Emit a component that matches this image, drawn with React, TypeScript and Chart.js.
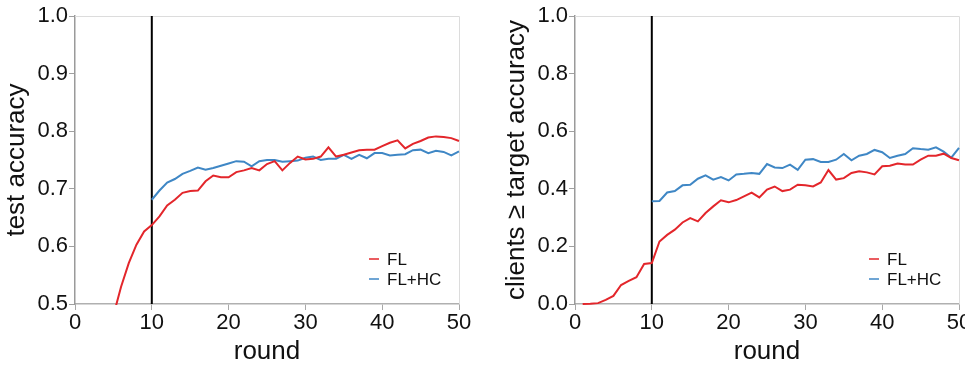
import React, { useEffect, useRef } from "react";
import { Chart, registerables } from "chart.js";

Chart.register(...registerables);

const rounds = [1, 2, 3, 4, 5, 6, 7, 8, 9, 10, 11, 12, 13, 14, 15, 16, 17, 18, 19, 20, 21, 22, 23, 24, 25, 26, 27, 28, 29, 30, 31, 32, 33, 34, 35, 36, 37, 38, 39, 40, 41, 42, 43, 44, 45, 46, 47, 48, 49, 50];

const accFL = [0.30, 0.36, 0.41, 0.45, 0.48, 0.530, 0.571, 0.603, 0.626, 0.637, 0.652, 0.671, 0.681, 0.693, 0.696, 0.697, 0.713, 0.723, 0.720, 0.720, 0.729, 0.732, 0.736, 0.732, 0.743, 0.748, 0.732, 0.745, 0.756, 0.751, 0.752, 0.756, 0.772, 0.756, 0.759, 0.763, 0.767, 0.768, 0.768, 0.774, 0.780, 0.784, 0.770, 0.778, 0.783, 0.789, 0.791, 0.790, 0.788, 0.783];

const accHC = [null, null, null, null, null, null, null, null, null, 0.681, 0.697, 0.711, 0.717, 0.726, 0.731, 0.737, 0.733, 0.736, 0.740, 0.744, 0.748, 0.747, 0.739, 0.748, 0.750, 0.750, 0.747, 0.748, 0.749, 0.754, 0.756, 0.750, 0.752, 0.752, 0.759, 0.752, 0.759, 0.753, 0.762, 0.762, 0.758, 0.759, 0.760, 0.767, 0.768, 0.762, 0.766, 0.764, 0.758, 0.765];

const cliFL = [0.0, 0.001, 0.003, 0.014, 0.028, 0.066, 0.080, 0.093, 0.139, 0.142, 0.217, 0.240, 0.258, 0.283, 0.298, 0.287, 0.316, 0.339, 0.360, 0.353, 0.361, 0.374, 0.387, 0.370, 0.397, 0.408, 0.392, 0.397, 0.414, 0.412, 0.408, 0.422, 0.465, 0.432, 0.437, 0.455, 0.461, 0.457, 0.450, 0.478, 0.480, 0.488, 0.484, 0.484, 0.501, 0.515, 0.515, 0.522, 0.507, 0.499];

const cliHC = [null, null, null, null, null, null, null, null, null, 0.357, 0.358, 0.387, 0.392, 0.412, 0.414, 0.435, 0.447, 0.432, 0.441, 0.429, 0.450, 0.452, 0.455, 0.452, 0.486, 0.474, 0.472, 0.484, 0.466, 0.501, 0.503, 0.493, 0.493, 0.501, 0.521, 0.499, 0.515, 0.521, 0.535, 0.527, 0.507, 0.515, 0.521, 0.541, 0.538, 0.536, 0.544, 0.529, 0.508, 0.542];

const markerRound = 10;
const seriesLabels = ["FL", "FL+HC"];
const xTitle = "round";
const leftYTitle = "test accuracy";
const rightYTitle = "clients \u2265 target accuracy";

const RED = "#e3262b";
const BLUE = "#3f87c5";
const FONT = "'Liberation Sans', Arial, Helvetica, sans-serif";

const framePlugin = {
  id: "frameLegend",
  beforeDatasetsDraw(chart: any) {
    const { ctx, chartArea: a } = chart;
    ctx.save();
    ctx.strokeStyle = "#dcdcdc";
    ctx.lineWidth = 1;
    ctx.beginPath();
    ctx.moveTo(a.left, Math.round(a.top) + 0.5);
    ctx.lineTo(Math.round(a.right) + 0.5, Math.round(a.top) + 0.5);
    ctx.lineTo(Math.round(a.right) + 0.5, a.bottom);
    ctx.stroke();
    ctx.restore();
  },
  afterDraw(chart: any) {
    const { ctx, chartArea: a } = chart;
    const items = chart.data.datasets.filter((d: any) => d.label);
    ctx.save();
    ctx.font = `17px ${FONT}`;
    ctx.textBaseline = "middle";
    ctx.textAlign = "left";
    items.forEach((d: any, i: number) => {
      const y = a.bottom - 45 + i * 20;
      ctx.globalAlpha = 0.75;
      ctx.strokeStyle = d.borderColor;
      ctx.lineWidth = 2;
      ctx.beginPath();
      ctx.moveTo(a.right - 90, y);
      ctx.lineTo(a.right - 80, y);
      ctx.stroke();
      ctx.globalAlpha = 1;
      ctx.fillStyle = "#111";
      ctx.fillText(d.label, a.right - 72, y + 1);
    });
    ctx.restore();
  },
};

function makeConfig(fl: (number | null)[], hc: (number | null)[], yMin: number, yMax: number, step: number, yTitle: string, padRight: number, bottomClip: number) {
  const pts = (arr: (number | null)[]) => rounds.map((r, i) => ({ x: r, y: arr[i] }));
  const clip = { left: 1, top: 1, right: 1, bottom: bottomClip };
  return {
    type: "line" as const,
    data: {
      datasets: [
        { label: seriesLabels[0], data: pts(fl), borderColor: RED, backgroundColor: RED, borderWidth: 2, pointRadius: 0, tension: 0, spanGaps: false, clip },
        { label: seriesLabels[1], data: pts(hc), borderColor: BLUE, backgroundColor: BLUE, borderWidth: 2, pointRadius: 0, tension: 0, spanGaps: false, clip },
        { label: "", data: [{ x: markerRound, y: yMin }, { x: markerRound, y: yMax }], borderColor: "#000", borderWidth: 2, pointRadius: 0 },
      ],
    },
    options: {
      animation: false,
      responsive: false,
      maintainAspectRatio: false,
      layout: { padding: { top: 16, right: padRight, bottom: 0, left: 0 } },
      plugins: { legend: { display: false }, tooltip: { enabled: false } },
      scales: {
        x: {
          type: "linear",
          min: 0,
          max: 50,
          afterFit: (s: any) => { s.height = 66; },
          ticks: { stepSize: 10, color: "#111", font: { size: 22, family: FONT }, padding: 0, maxRotation: 0 },
          grid: { display: true, drawOnChartArea: false, drawTicks: true, tickLength: 6, color: "#a8a8a8" },
          border: { display: true, color: "#b0b0b0", width: 1.5 },
          title: { display: true, text: xTitle, color: "#111", font: { size: 26, family: FONT }, padding: { top: 0, bottom: 3 } },
        },
        y: {
          type: "linear",
          min: yMin,
          max: yMax,
          afterFit: (s: any) => { s.width = 75; },
          ticks: { stepSize: step, color: "#111", font: { size: 22, family: FONT }, padding: 1, callback: (v: any) => Number(v).toFixed(1) },
          grid: { display: true, drawOnChartArea: false, drawTicks: true, tickLength: 6, color: "#a0a0a0" },
          border: { display: true, color: "#9a9a9a", width: 1.5 },
          title: { display: true, text: yTitle, color: "#111", font: { size: 26, family: FONT }, padding: { top: 1, bottom: 0 } },
        },
      },
    },
    plugins: [framePlugin],
  };
}

export default function App() {
  const leftRef = useRef<HTMLCanvasElement>(null);
  const rightRef = useRef<HTMLCanvasElement>(null);

  useEffect(() => {
    const c1 = new Chart(leftRef.current as HTMLCanvasElement, makeConfig(accFL, accHC, 0.5, 1.0, 0.1, leftYTitle, 21, 1) as any);
    const c2 = new Chart(rightRef.current as HTMLCanvasElement, makeConfig(cliFL, cliHC, 0.0, 1.0, 0.2, rightYTitle, 16, 3) as any);
    return () => { c1.destroy(); c2.destroy(); };
  }, []);

  return (
    <div style={{ position: "fixed", left: 0, top: 0, width: 965, height: 370, overflow: "hidden", background: "#fff" }}>
      <canvas ref={leftRef} width={480} height={370} style={{ position: "absolute", left: 0, top: 0, width: 480, height: 370 }} />
      <canvas ref={rightRef} width={475} height={370} style={{ position: "absolute", left: 500, top: 0, width: 475, height: 370 }} />
    </div>
  );
}
